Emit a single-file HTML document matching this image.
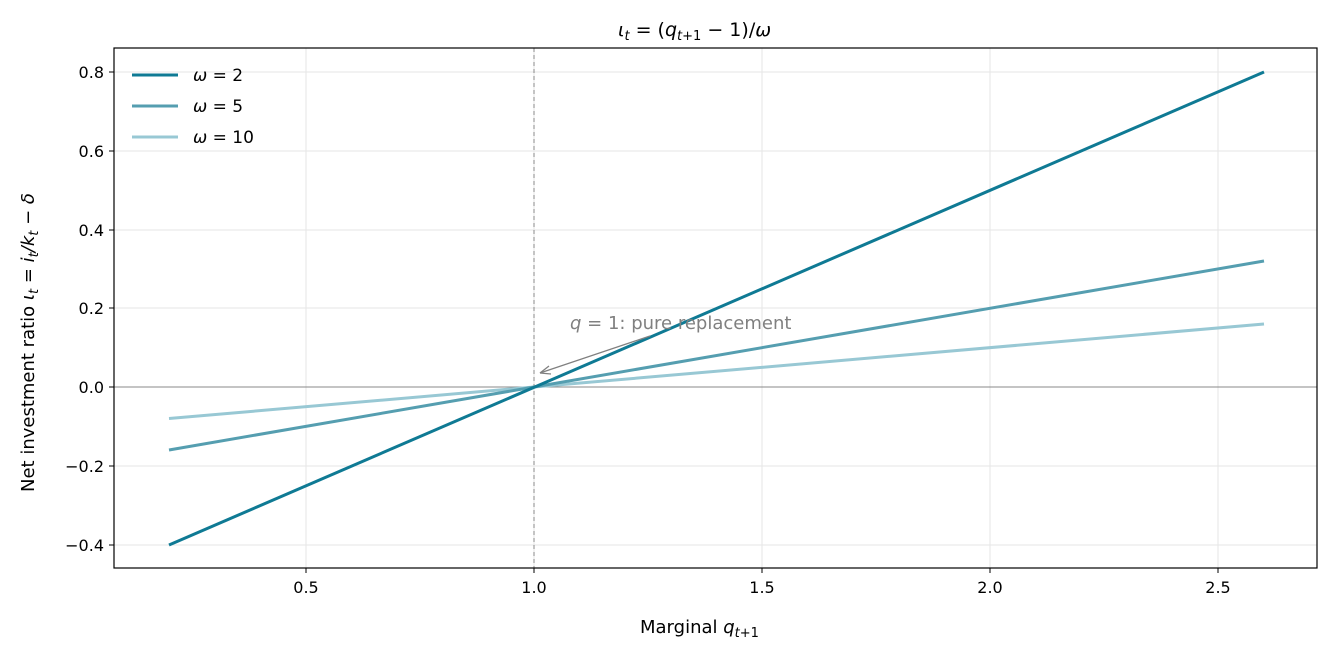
<!DOCTYPE html>
<html><head><meta charset="utf-8"><style>body{margin:0;background:#fff}svg{display:block}text{font-family:"DejaVu Sans","Liberation Sans",sans-serif;}</style></head>
<body>
<svg width="1333" height="654" viewBox="0 0 1333 654" xmlns="http://www.w3.org/2000/svg">
<rect width="1333" height="654" fill="#fff"/>
<g stroke="#e6e6e6" stroke-width="1">
<line x1="306" y1="48" x2="306" y2="568"/><line x1="534" y1="48" x2="534" y2="568"/><line x1="762" y1="48" x2="762" y2="568"/><line x1="990" y1="48" x2="990" y2="568"/><line x1="1218" y1="48" x2="1218" y2="568"/>
<line x1="114" y1="72" x2="1317" y2="72"/><line x1="114" y1="151" x2="1317" y2="151"/><line x1="114" y1="230" x2="1317" y2="230"/><line x1="114" y1="308" x2="1317" y2="308"/><line x1="114" y1="466" x2="1317" y2="466"/><line x1="114" y1="545" x2="1317" y2="545"/>
</g>
<line x1="114" y1="387" x2="1317" y2="387" stroke="#888" stroke-width="1"/>
<line x1="534" y1="48" x2="534" y2="568" stroke="#888" stroke-width="1" stroke-dasharray="4,3"/>
<line x1="169" y1="418.5" x2="1264" y2="324" stroke="#98c8d4" stroke-width="3"/>
<line x1="169" y1="450" x2="1264" y2="261" stroke="#559eb0" stroke-width="3"/>
<line x1="169" y1="545" x2="1264" y2="72" stroke="#0f7a94" stroke-width="3"/>
<line x1="650" y1="336" x2="540" y2="373" stroke="#808080" stroke-width="1.3"/>
<path d="M540 373 L549 366 M540 373 L551 374" stroke="#808080" stroke-width="1.3" fill="none"/>
<text x="570" y="329" font-size="18" fill="#808080"><tspan font-style="italic">q</tspan> = 1: pure replacement</text>
<rect x="114" y="48" width="1203" height="520" fill="none" stroke="#000" stroke-width="1.2"/>
<g font-size="16" fill="#000" text-anchor="middle">
<text x="306" y="593">0.5</text><text x="534" y="593">1.0</text><text x="762" y="593">1.5</text><text x="990" y="593">2.0</text><text x="1218" y="593">2.5</text>
</g>
<g stroke="#000"><line x1="306" y1="568" x2="306" y2="573"/><line x1="534" y1="568" x2="534" y2="573"/><line x1="762" y1="568" x2="762" y2="573"/><line x1="990" y1="568" x2="990" y2="573"/><line x1="1218" y1="568" x2="1218" y2="573"/>
<line x1="109" y1="72" x2="114" y2="72"/><line x1="109" y1="151" x2="114" y2="151"/><line x1="109" y1="230" x2="114" y2="230"/><line x1="109" y1="308" x2="114" y2="308"/><line x1="109" y1="387" x2="114" y2="387"/><line x1="109" y1="466" x2="114" y2="466"/><line x1="109" y1="545" x2="114" y2="545"/></g>
<g font-size="16" fill="#000" text-anchor="end">
<text x="104" y="78">0.8</text><text x="104" y="157">0.6</text><text x="104" y="236">0.4</text><text x="104" y="314">0.2</text><text x="104" y="393">0.0</text><text x="104" y="472">−0.2</text><text x="104" y="551">−0.4</text>
</g>
<text x="640" y="633" font-size="18">Marginal <tspan font-style="italic">q</tspan><tspan font-size="13" dy="4" font-style="italic">t</tspan><tspan font-size="13">+1</tspan></text>
<text transform="translate(34,492) rotate(-90)" font-size="18">Net investment ratio <tspan font-style="italic">ι</tspan><tspan font-size="13" dy="4" font-style="italic">t</tspan><tspan dy="-4"> = </tspan><tspan font-style="italic">i</tspan><tspan font-size="13" dy="4" font-style="italic">t</tspan><tspan dy="-4" font-style="italic">/k</tspan><tspan font-size="13" dy="4" font-style="italic">t</tspan><tspan dy="-4"> − </tspan><tspan font-style="italic">δ</tspan></text>
<text x="618" y="36" font-size="19"><tspan font-style="italic">ι</tspan><tspan font-size="13" dy="4" font-style="italic">t</tspan><tspan dy="-4"> = (</tspan><tspan font-style="italic">q</tspan><tspan font-size="13" dy="4" font-style="italic">t</tspan><tspan font-size="13">+1</tspan><tspan dy="-4"> − 1)/</tspan><tspan font-style="italic">ω</tspan></text>
<line x1="132" y1="75" x2="178" y2="75" stroke="#0f7a94" stroke-width="3"/>
<line x1="132" y1="106" x2="178" y2="106" stroke="#559eb0" stroke-width="3"/>
<line x1="132" y1="137" x2="178" y2="137" stroke="#98c8d4" stroke-width="3"/>
<g font-size="17"><text x="193" y="81"><tspan font-style="italic">ω</tspan> = 2</text><text x="193" y="112"><tspan font-style="italic">ω</tspan> = 5</text><text x="193" y="143"><tspan font-style="italic">ω</tspan> = 10</text></g>
</svg>
</body></html>
